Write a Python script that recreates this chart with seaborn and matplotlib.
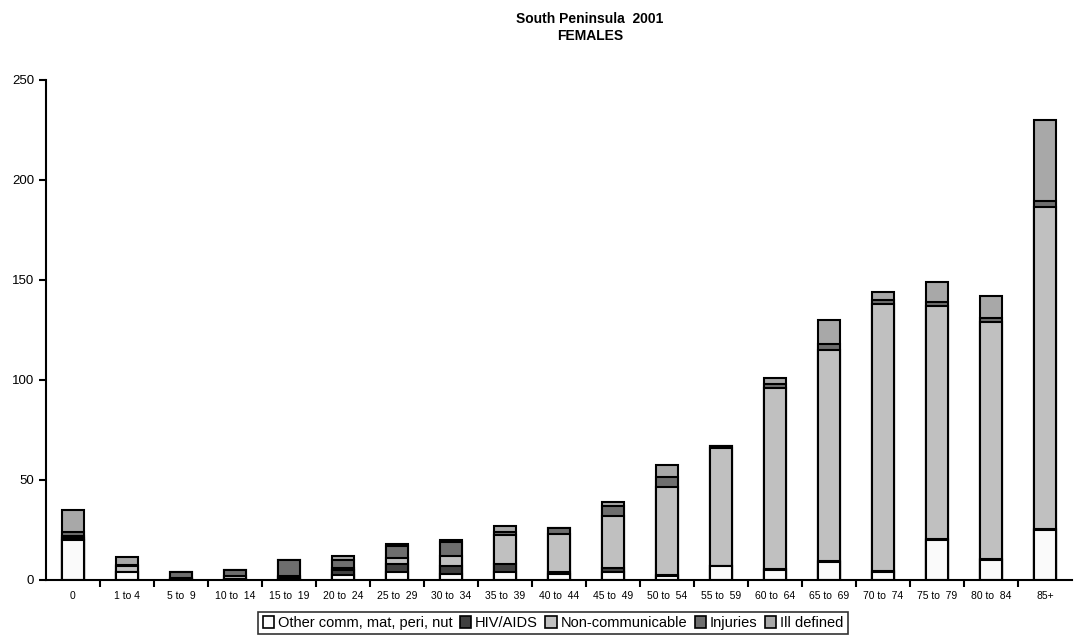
import numpy as np
import pandas as pd
import matplotlib
matplotlib.use('Agg')
import matplotlib.pyplot as plt
from matplotlib.patches import Patch
from matplotlib.ticker import FixedLocator
import seaborn as sns

# Deaths by age group and cause, South Peninsula 2001, females
ages = ['0', '1 to 4', '5 to  9', '10 to  14', '15 to  19', '20 to  24', '25 to  29',
        '30 to  34', '35 to  39', '40 to  44', '45 to  49', '50 to  54', '55 to  59',
        '60 to  64', '65 to  69', '70 to  74', '75 to  79', '80 to  84', '85+']
other = [20, 4, 0.5, 0.5, 0.5, 2.5, 4, 3, 4, 3, 4, 2, 7, 5, 9, 4, 20, 10, 25]
hiv = [1, 0, 0, 0, 1, 2.5, 4, 4, 4, 1, 2, 0.5, 0, 0.5, 0.5, 0.5, 0.5, 0.5, 0.5]
noncomm = [1, 3, 0.5, 1.5, 0.5, 1, 3, 5, 14.5, 19, 26, 44, 59, 90.5, 105.5, 133.5, 116.5, 118.5, 161]
injuries = [2, 0.5, 3, 3, 8, 4, 6, 7, 1.5, 3, 5, 5, 1, 2, 3, 2, 2, 2, 3]
ill = [11, 4, 0, 0, 0, 2, 1, 1, 3, 0, 2, 6, 0, 3, 12, 4, 10, 11, 40.5]

causes = ['Other comm, mat, peri, nut', 'HIV/AIDS', 'Non-communicable', 'Injuries', 'Ill defined']
colors = ['#fafafa', '#404040', '#c0c0c0', '#6e6e6e', '#a8a8a8']

df = pd.DataFrame({'age': ages, causes[0]: other, causes[1]: hiv, causes[2]: noncomm,
                   causes[3]: injuries, causes[4]: ill})
cum = df[causes].cumsum(axis=1)

sns.set_style('white')
plt.rcParams['font.family'] = ['Liberation Sans', 'DejaVu Sans']
plt.rcParams['text.color'] = 'black'
plt.rcParams['xtick.color'] = 'black'
plt.rcParams['ytick.color'] = 'black'

fig = plt.figure(figsize=(10.77, 6.42), dpi=100)
ax = fig.add_axes([46 / 1077, 62 / 642, 1026 / 1077, 500 / 642])

# stacked look: draw cumulative totals from the top layer down
for c, col in reversed(list(zip(causes, colors))):
    sns.barplot(x=df['age'], y=cum[c], color=col, width=0.41, edgecolor='black',
                linewidth=1.5, saturation=1, ax=ax, zorder=2)

ax.set_xlim(-0.5, len(ages) - 0.5)
ax.set_ylim(0, 250)
ax.set_yticks(range(0, 251, 50))
ax.set_xlabel('')
ax.set_ylabel('')
sns.despine(ax=ax)
for s in ['left', 'bottom']:
    ax.spines[s].set_linewidth(1.5)
    ax.spines[s].set_color('black')

ax.tick_params(axis='y', direction='out', length=5, width=1.5, labelsize=9.5, left=True)
ax.tick_params(axis='x', which='major', length=0, labelsize=7.5, pad=8)
ax.xaxis.set_minor_locator(FixedLocator(np.arange(0.5, len(ages) - 1, 1)))
ax.tick_params(axis='x', which='minor', direction='out', length=5, width=1.5, bottom=True)

fig.text(590 / 1077, 1 - 12 / 642, 'South Peninsula  2001\nFEMALES', ha='center', va='top',
         fontsize=10, fontweight='bold', linespacing=1.25)

handles = [Patch(facecolor=col, edgecolor='black', linewidth=1.2) for col in colors]
leg = fig.legend(handles, causes, loc='center', bbox_to_anchor=(553 / 1077, 1 - 623 / 642),
                 ncol=5, frameon=True, fancybox=False, fontsize=10.5, handlelength=0.8,
                 handleheight=0.8, handletextpad=0.25, columnspacing=0.5,
                 borderpad=0.3, borderaxespad=0)
leg.get_frame().set_edgecolor('black')
leg.get_frame().set_linewidth(1.2)

fig.savefig('out.png', dpi=100)
